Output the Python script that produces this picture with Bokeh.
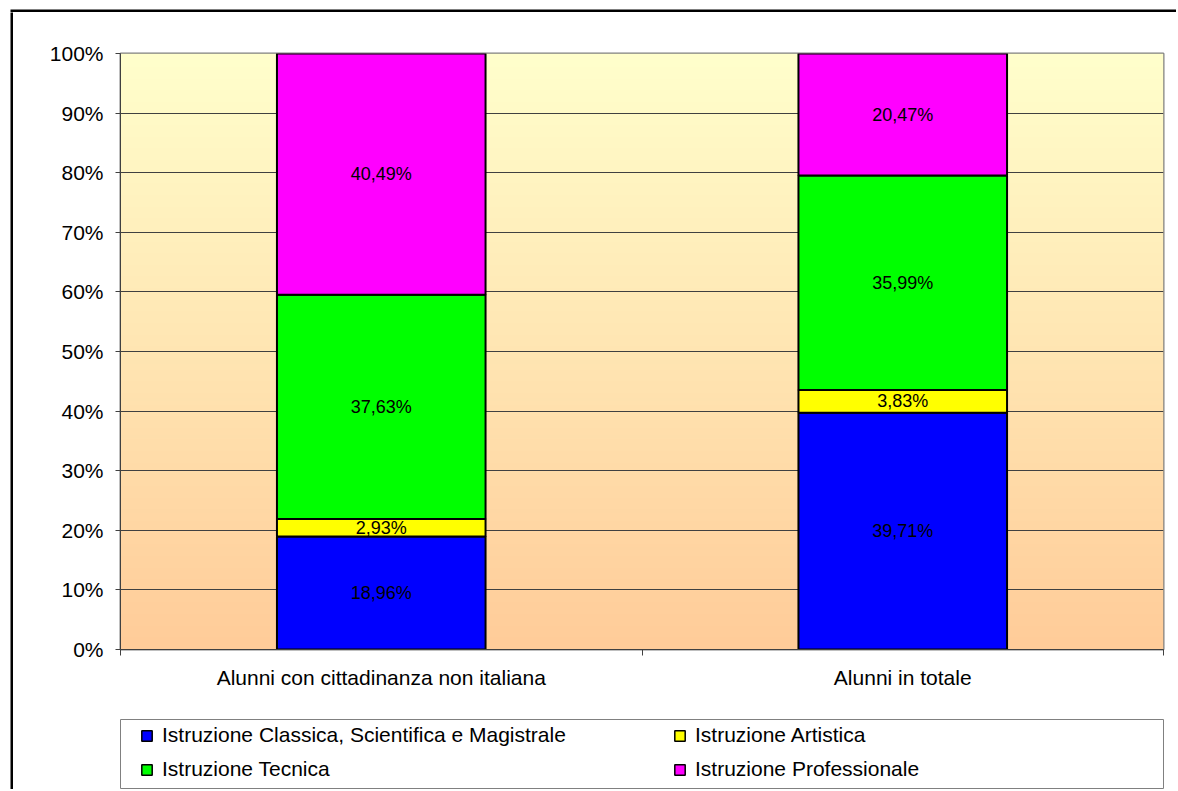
import numpy as np
from bokeh.plotting import figure
from bokeh.models import (ColumnDataSource, FixedTicker, NumeralTickFormatter, Range1d,
                          Legend, LegendItem, Column, Row)
from bokeh.core.properties import value
from bokeh.embed import file_html
from bokeh.resources import INLINE

categories = ["Alunni con cittadinanza non italiana", "Alunni in totale"]
series = ["Istruzione Classica, Scientifica e Magistrale", "Istruzione Artistica",
          "Istruzione Tecnica", "Istruzione Professionale"]
classica = [18.96, 39.71]
artistica = [2.93, 3.83]
tecnica = [37.63, 35.99]
professionale = [40.49, 20.47]
colors = ["#0000FF", "#FFFF00", "#00FF00", "#FF00FF"]
y_ticks = [0, 0.1, 0.2, 0.3, 0.4, 0.5, 0.6, 0.7, 0.8, 0.9, 1.0]

FONT = "Liberation Sans"
values = [classica, artistica, tecnica, professionale]
keys = ["s0", "s1", "s2", "s3"]
xs = [i + 0.5 for i in range(len(categories))]
data = {"x": xs}
for k, v in zip(keys, values):
    data[k] = [val / 100.0 for val in v]
src = ColumnDataSource(data)

W = 1163
H1 = 698
H2 = 79
p = figure(width=W, height=H1, x_range=Range1d(0, len(categories)), y_range=Range1d(0, 1),
           output_backend="svg", toolbar_location=None,
           min_border_left=107, min_border_right=13, min_border_top=41, min_border_bottom=61)
p.background_fill_color = None
p.border_fill_color = "white"
p.outline_line_color = "#808080"
p.outline_line_width = 2

# gradient background
n = 256
top = np.array([0xFF, 0xFF, 0xCC], dtype=float)
bot = np.array([0xFF, 0xCC, 0x99], dtype=float)
t = np.linspace(0, 1, n)[:, None]
rgb = (bot * (1 - t) + top * t).astype(np.uint32)
img = np.empty((n, 1), dtype=np.uint32)
view = img.view(dtype=np.uint8).reshape((n, 1, 4))
view[:, :, 0] = rgb[:, 0:1]
view[:, :, 1] = rgb[:, 1:2]
view[:, :, 2] = rgb[:, 2:3]
view[:, :, 3] = 255
p.image_rgba(image=[img], x=0, y=0, dw=len(categories), dh=1, level="image")

p.vbar_stack(keys, x="x", width=0.4, source=src, fill_color=colors,
             line_color="black", line_width=2)

# data labels
lx, ly, lt = [], [], []
for i in range(len(categories)):
    cum = 0.0
    for v in values:
        val = v[i] / 100.0
        lx.append(xs[i])
        ly.append(cum + val / 2)
        lt.append(("%.2f" % v[i]).replace(".", ",") + "%")
        cum += val
p.text(x=lx, y=ly, text=lt, text_font=value(FONT), text_font_size="18px",
       text_align="center", text_baseline="middle", text_color="black")

# grid
p.xgrid.visible = False
p.ygrid.ticker = FixedTicker(ticks=y_ticks)
p.ygrid.grid_line_color = "#404040"
p.ygrid.grid_line_width = 1

# y axis
ya = p.yaxis[0]
ya.ticker = FixedTicker(ticks=y_ticks)
ya.formatter = NumeralTickFormatter(format="0%")
ya.major_label_text_font = FONT
ya.major_label_text_font_size = "21px"
ya.major_label_text_color = "black"
ya.axis_line_color = "#404040"
ya.major_tick_line_color = "#404040"
ya.major_tick_out = 5
ya.major_tick_in = 0
ya.minor_tick_line_color = None
ya.major_label_standoff = 12

# x axis
xa = p.xaxis[0]
xa.ticker = FixedTicker(ticks=xs, minor_ticks=list(range(len(categories) + 1)))
xa.major_label_overrides = {x: c for x, c in zip(xs, categories)}
xa.major_label_text_font = FONT
xa.major_label_text_font_size = "21px"
xa.major_label_text_color = "black"
xa.axis_line_color = "#404040"
xa.major_tick_line_color = None
xa.minor_tick_line_color = "#404040"
xa.minor_tick_out = 6
xa.minor_tick_in = 0
xa.major_label_standoff = 10

# legend figure
p2 = figure(width=W, height=H2, x_range=Range1d(0, 1), y_range=Range1d(0, 1),
            output_backend="svg", toolbar_location=None, title=None,
            x_axis_location=None, y_axis_location=None,
            min_border_left=107, min_border_right=13, min_border_top=9, min_border_bottom=0)
p2.grid.visible = False
p2.outline_line_color = "#808080"
p2.outline_line_width = 1
p2.background_fill_color = "white"
p2.border_fill_color = "white"
dummies = []
for c in colors:
    dummies.append(p2.quad(left=[np.nan], right=[np.nan], top=[np.nan], bottom=[np.nan],
                           fill_color=c, line_color="black", line_width=1.5))


def make_legend(idx, loc):
    return Legend(items=[LegendItem(label=series[i], renderers=[dummies[i]]) for i in idx],
                  location=loc, orientation="vertical", padding=0, margin=0,
                  spacing=10, glyph_width=13, glyph_height=13, label_height=24,
                  label_standoff=9, label_text_font=FONT, label_text_font_size="21px",
                  label_text_color="black", border_line_color=None,
                  background_fill_alpha=0)


p2.add_layout(make_legend([0, 2], (20, 8)))
p2.add_layout(make_legend([1, 3], (553, 8)))


def bar(w, h, left, top_):
    b = figure(width=w, height=h, output_backend="svg", toolbar_location=None, title=None,
               x_axis_location=None, y_axis_location=None,
               min_border_left=left, min_border_top=top_, min_border_right=0, min_border_bottom=0)
    b.grid.visible = False
    b.outline_line_color = None
    b.background_fill_color = "black"
    b.border_fill_color = "white"
    return b


top_bar = bar(13 + W, 12, 10, 9)
left_bar = bar(13, H1 + H2, 10, 0)

layout = Column(children=[top_bar, Row(children=[left_bar, Column(children=[p, p2], spacing=0)],
                                       spacing=0)], spacing=0)

open("out.html", "w").write(file_html(layout, INLINE))
